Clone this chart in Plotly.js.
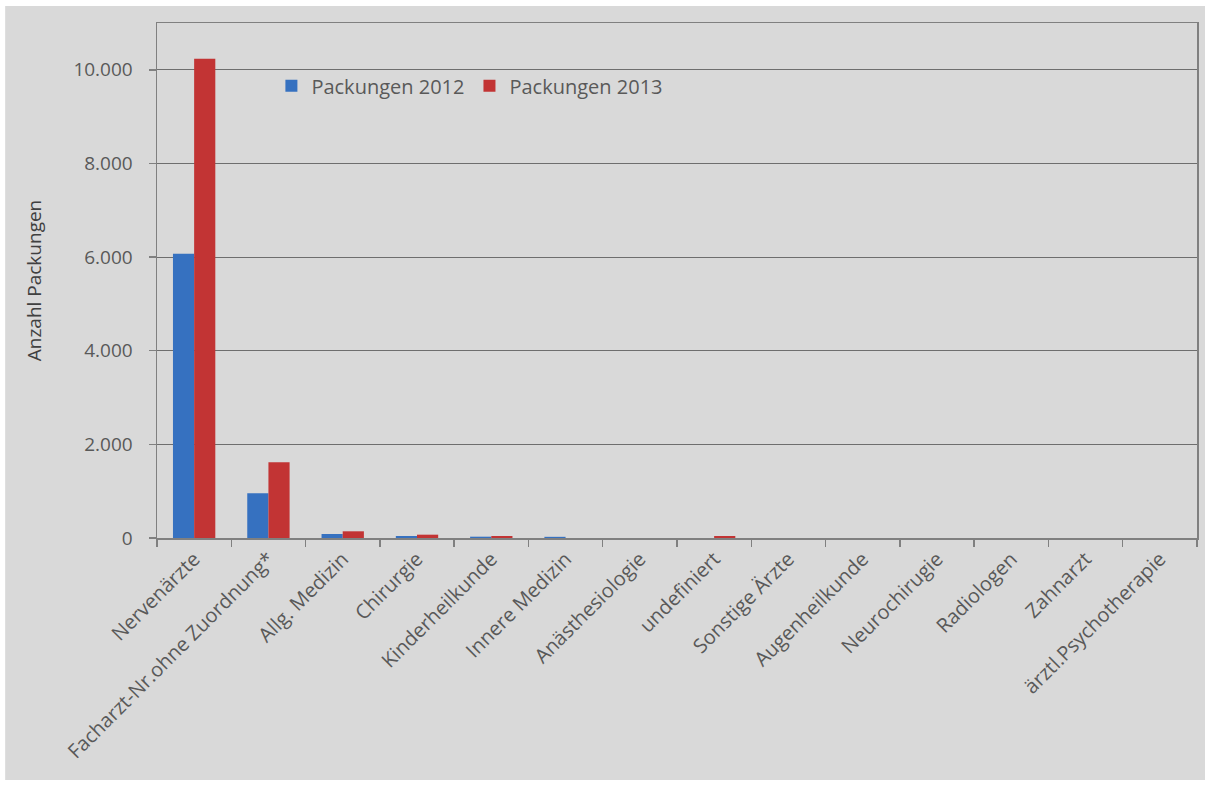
<!DOCTYPE html>
<html>
<head>
<meta charset="utf-8">
<script src="https://cdn.plot.ly/plotly-3.0.1.min.js"></script>
<style>html,body{margin:0;padding:0;background:#fff;}#chart{width:1211px;height:785px;}</style>
</head>
<body>
<div id="chart"></div>
<script>
const categories = ["Nervenärzte","Facharzt-Nr.ohne Zuordnung*","Allg. Medizin","Chirurgie","Kinderheilkunde","Innere Medizin","Anästhesiologie","undefiniert","Sonstige Ärzte","Augenheilkunde","Neurochirugie","Radiologen","Zahnarzt","ärztl.Psychotherapie"];
const packungen2012 = [6070, 955, 85, 43, 28, 25, 0, 0, 0, 0, 0, 0, 0, 0];
const packungen2013 = [10235, 1617, 143, 71, 43, 0, 0, 43, 0, 0, 0, 0, 0, 0];
const seriesNames = ["Packungen 2012", "Packungen 2013"];

const traces = [
  {type:"bar", name:seriesNames[0], x:categories, y:packungen2012,
   marker:{color:"#3671c0", line:{width:0}}},
  {type:"bar", name:seriesNames[1], x:categories, y:packungen2013,
   marker:{color:"#c23434", line:{width:0}}}
];

const layout = {
  width:1211, height:785,
  margin:{l:157, r:14, t:23, b:247},
  paper_bgcolor:"#ffffff",
  plot_bgcolor:"rgba(0,0,0,0)",
  separators:",.",
  barmode:"group",
  bargap:0.43,
  bargroupgap:0,
  font:{family:"Open Sans, sans-serif", color:"#595959", size:20},
  showlegend:true,
  legend:{orientation:"h", x:0.11, y:0.878, xanchor:"left", yanchor:"middle",
          bgcolor:"rgba(0,0,0,0)", font:{size:20, color:"#595959"},
          itemwidth:30, traceorder:"normal"},
  xaxis:{type:"category", showgrid:false, ticks:"outside", tickson:"boundaries",
         ticklen:7, tickcolor:"#808080", tickwidth:1.5, tickangle:-45,
         showline:true, linecolor:"#808080", linewidth:1.5, mirror:true,
         tickfont:{size:20, color:"#595959"}},
  yaxis:{range:[0,11000], dtick:2000, tickformat:",d", showgrid:true,
         gridcolor:"#6e6e6e", gridwidth:1, ticks:"outside", ticklen:7,
         tickcolor:"#808080", tickwidth:1.5, showline:true, linecolor:"#808080",
         linewidth:1.5, mirror:true, zeroline:false, ticklabelstandoff:12,
         tickfont:{size:19, color:"#595959"},
         title:{text:"Anzahl Packungen", font:{size:19, color:"#404040"}, standoff:26}},
  shapes:[{type:"rect", xref:"paper", yref:"paper", x0:-0.146, x1:1.0077, y0:-0.470, y1:1.033,
           fillcolor:"#d9d9d9", line:{width:0}, layer:"below"}]
};

Plotly.newPlot("chart", traces, layout, {displayModeBar:false, staticPlot:true});
</script>
</body>
</html>
